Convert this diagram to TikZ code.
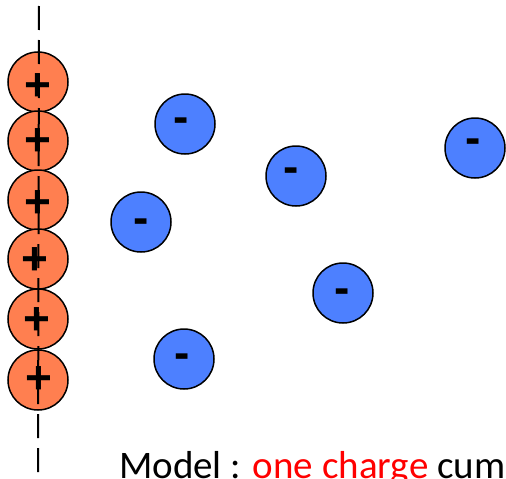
\documentclass[tikz,border=0pt]{standalone}
\usepackage{fontspec}
\setmainfont{Carlito}
\newfontfamily\signfont{Liberation Sans}
\definecolor{poscol}{RGB}{255,127,80}
\definecolor{negcol}{RGB}{77,128,255}
\definecolor{txtred}{RGB}{255,0,0}
\begin{document}
\begin{tikzpicture}[x=1pt,y=-1pt,
  posion/.style={circle,draw=black,line width=1.5pt,fill=poscol,minimum size=60pt,inner sep=0pt},
  negion/.style={circle,draw=black,line width=1.5pt,fill=negcol,minimum size=60pt,inner sep=0pt},
  sign/.style={anchor=base,inner sep=0pt,font=\signfont\bfseries\fontsize{46}{46}\selectfont},
  wall/.style={line width=2pt,dash pattern=on 24pt off 10pt}]
\clip (0,0) rectangle (506,479);
% positive layer along the wall
\foreach \n/\y in {1/82,2/141,3/200,4/259,5/319,6/380}
  \node[posion] (p\n) at (38,\y) {};
% signs of the positive layer
\foreach \n/\x/\y in {1/38/84,2/38/139,3/38/201,4/35/258,5/37/318,6/39/377}
  \node[sign] (ps\n) at (\x,\y+16) {+};
% the wall
\coordinate (wt) at (39,6);
\coordinate (wb) at (38,478);
\draw[wall] (wt) -- (wb);
% negative charges in solution
\foreach \n/\x/\y in {a/185/124,b/296/176,c/141/222,d/475/148,e/343/293,f/184/359}
  \node[negion] (n\n) at (\x,\y) {};
\foreach \n/\x/\y in {a/181/119,b/291/169,c/141/220,d/473/140,e/342/290,f/182/355}
  \node[sign] (ns\n) at (\x,\y+13) {-};
% caption
\node[anchor=base west,inner sep=0pt,font=\fontsize{39}{39}\selectfont] (cap) at (119,478)
  {Model : \textcolor{txtred}{one charge} cum};
\end{tikzpicture}
\end{document}
